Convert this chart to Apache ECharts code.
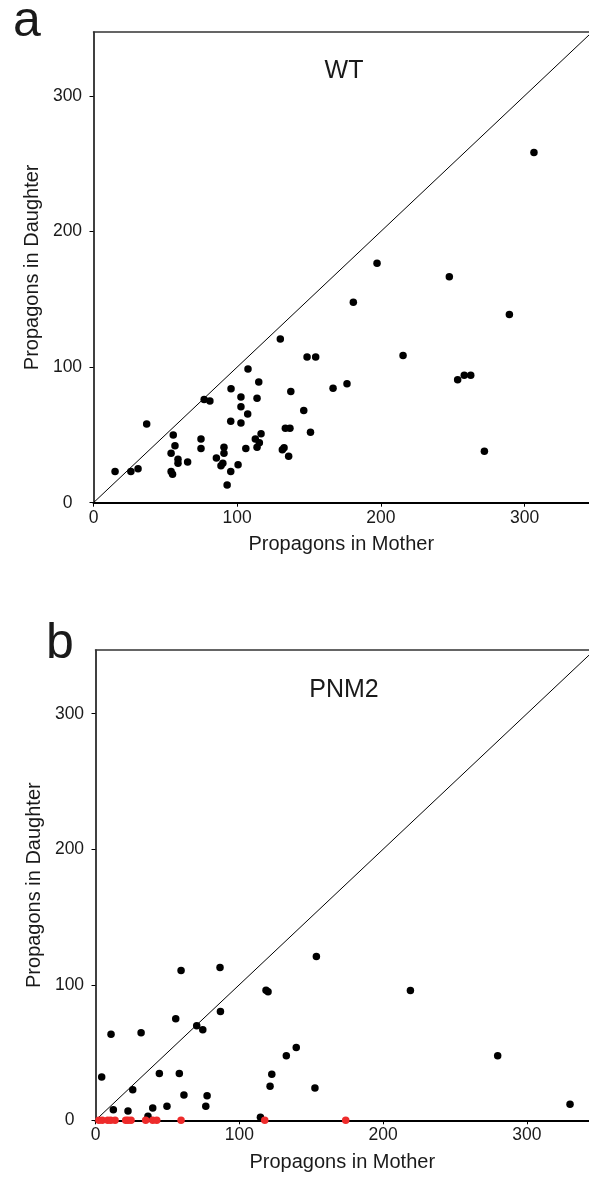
<!DOCTYPE html>
<html>
<head>
<meta charset="utf-8">
<script src="https://cdn.jsdelivr.net/npm/echarts@6/dist/echarts.min.js"></script>
<style>
  html, body { margin: 0; padding: 0; background: #fff; }
  #chart { width: 589px; height: 1179px; }
</style>
</head>
<body>
<div id="chart"></div>
<script>
// panel a: WT, [mother, daughter]
const wtPoints = [
  [15, 23], [26, 23], [31, 25], [37, 58], [55.5, 50], [56.7, 42], [54, 36.4],
  [58.8, 32], [58.8, 29], [54, 23], [55, 21], [65.5, 30], [74.8, 47], [74.8, 40],
  [77, 76], [81, 75], [85.5, 33], [88.7, 27.3], [90, 29], [90.8, 40.8], [90.8, 36.4],
  [93, 13], [95.5, 23], [95.5, 60], [95.7, 84], [100.6, 28], [102.6, 78], [102.6, 70.7],
  [102.6, 58.7], [106, 40], [107.3, 65.4], [107.5, 98.5], [112.6, 47], [113.8, 40.8],
  [115.4, 44.2], [116.6, 50.8], [113.8, 77], [115, 89], [130, 120.6], [131.4, 39],
  [132.6, 40.5], [135.8, 34.2], [133.5, 54.8], [136.7, 54.8], [137.3, 82], [146.3, 68],
  [148.6, 107.5], [154.6, 107.4], [151, 52], [166.7, 84.3], [176.4, 87.7], [180.8, 147.7],
  [197.3, 176.6], [215.4, 108.6], [247.6, 166.5], [253.4, 90.6], [258, 94], [262.5, 94],
  [272, 38], [289.4, 138.8], [306.5, 258.2]
];

// panel b: PNM2, daughter > 0
const pnmPoints = [
  [4.3, 32], [10.8, 63.4], [12.4, 7.8], [22.6, 6.9], [25.9, 22.5], [31.7, 64.6],
  [36.5, 2.9], [39.8, 9.1], [44.4, 34.6], [49.7, 10.3], [55.8, 75], [59.5, 110.5],
  [58.3, 34.6], [61.5, 18.6], [70.4, 69.7], [74.6, 66.8], [76.7, 10.3], [77.6, 18.2],
  [86.6, 112.7], [86.9, 80.3], [114.7, 2.2], [118.6, 96], [120, 94.8], [122.6, 34],
  [121.4, 25.1], [132.7, 47.6], [139.6, 53.8], [152.6, 23.8], [153.6, 120.9],
  [219, 95.8], [279.7, 47.6], [330, 11.8]
];

// panel b: PNM2, daughter = 0 (red)
const pnmZero = [
  [2.4, 0], [4.7, 0], [8.5, 0], [10.6, 0], [13.6, 0], [21, 0], [22.6, 0], [24.7, 0],
  [34.9, 0], [39.8, 0], [42.6, 0], [59.5, 0], [117.7, 0], [174, 0]
];

// y = x reference line
const diagonal = [[0, 0], [370, 370]];

const tickValues = [0, 100, 200, 300];
const panelTitles = ['WT', 'PNM2'];
const panelLetters = ['a', 'b'];
const xName = 'Propagons in Mother';
const yName = 'Propagons in Daughter';

const font = '"Liberation Sans", Arial, sans-serif';
const textColor = '#1a1a1a';

function xAxisCfg(idx, max) {
  return {
    gridIndex: idx,
    type: 'value',
    min: 0,
    max: max,
    interval: 100,
    name: xName,
    nameLocation: 'middle',
    nameGap: 32,
    nameTextStyle: { fontFamily: font, fontSize: 20, color: textColor },
    axisLine: { onZero: false, lineStyle: { color: '#000', width: 2 } },
    axisTick: { length: 4, customValues: tickValues, lineStyle: { color: '#000', width: 1 } },
    axisLabel: { margin: 6, customValues: tickValues, fontFamily: font, fontSize: 17.5, color: textColor },
    splitLine: { show: false }
  };
}

// top frame line of each panel
function topAxisCfg(idx, max) {
  return {
    gridIndex: idx,
    type: 'value',
    position: 'top',
    min: 0,
    max: max,
    axisLine: { onZero: false, lineStyle: { color: '#333', width: 1.5 } },
    axisTick: { show: false },
    axisLabel: { show: false },
    splitLine: { show: false }
  };
}

function yAxisCfg(idx, max) {
  return {
    gridIndex: idx,
    type: 'value',
    min: 0,
    max: max,
    interval: 100,
    name: yName,
    nameLocation: 'middle',
    nameGap: 48,
    nameTextStyle: { fontFamily: font, fontSize: 20, color: textColor },
    axisLine: { onZero: false, lineStyle: { color: '#000', width: 1.5 } },
    axisTick: { length: 4, customValues: tickValues, lineStyle: { color: '#000', width: 1 } },
    axisLabel: { margin: 26, align: 'center', customValues: tickValues, fontFamily: font, fontSize: 17.5, color: textColor },
    splitLine: { show: false }
  };
}

var myChart = echarts.init(document.getElementById('chart'), null, { renderer: 'canvas' });

myChart.setOption({
  backgroundColor: '#fff',
  animation: false,
  title: [
    { text: panelLetters[0], left: 8, top: -8, textStyle: { fontFamily: font, fontSize: 50, fontWeight: 'normal', color: textColor } },
    { text: panelTitles[0], left: 339, top: 54, textAlign: 'center', textStyle: { fontFamily: font, fontSize: 25, fontWeight: 'normal', color: textColor } },
    { text: panelLetters[1], left: 41, top: 614, textStyle: { fontFamily: font, fontSize: 50, fontWeight: 'normal', color: textColor } },
    { text: panelTitles[1], left: 339, top: 673, textAlign: 'center', textStyle: { fontFamily: font, fontSize: 25, fontWeight: 'normal', color: textColor } }
  ],
  grid: [
    { left: 93.5, top: 32, width: 495.5, height: 470.7 },
    { left: 95.5, top: 650, width: 493.5, height: 470.3 }
  ],
  xAxis: [xAxisCfg(0, 344.8), xAxisCfg(1, 343.2), topAxisCfg(0, 344.8), topAxisCfg(1, 343.2)],
  yAxis: [yAxisCfg(0, 347), yAxisCfg(1, 347)],
  series: [
    {
      type: 'line', xAxisIndex: 0, yAxisIndex: 0, data: diagonal, symbol: 'none',
      lineStyle: { color: '#000', width: 1 }, clip: true, silent: true
    },
    {
      type: 'scatter', xAxisIndex: 0, yAxisIndex: 0, data: wtPoints,
      symbolSize: 7.5, itemStyle: { color: '#000', opacity: 1 }
    },
    {
      type: 'line', xAxisIndex: 1, yAxisIndex: 1, data: diagonal, symbol: 'none',
      lineStyle: { color: '#000', width: 1 }, clip: true, silent: true
    },
    {
      type: 'scatter', xAxisIndex: 1, yAxisIndex: 1, data: pnmPoints,
      symbolSize: 7.5, itemStyle: { color: '#000', opacity: 1 }
    },
    {
      type: 'scatter', xAxisIndex: 1, yAxisIndex: 1, data: pnmZero,
      symbolSize: 7.5, itemStyle: { color: '#ee2b2b', opacity: 1 }, clip: false, z: 5
    }
  ]
});
</script>
</body>
</html>
